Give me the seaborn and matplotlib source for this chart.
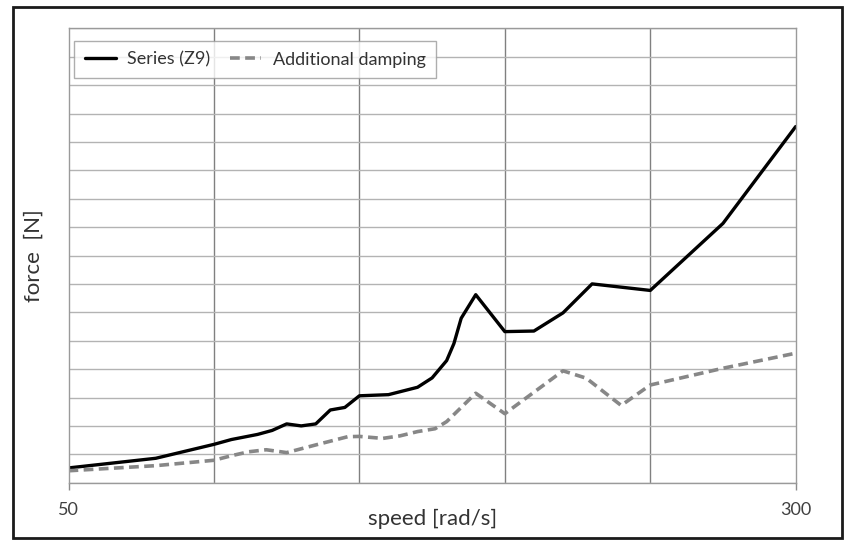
import matplotlib
matplotlib.use("Agg")
import matplotlib.pyplot as plt
import seaborn as sns
import pandas as pd
from matplotlib.patches import Rectangle
from matplotlib.ticker import FixedLocator

series_x = [50, 80, 100, 106, 115, 120, 125, 130, 135, 140, 145, 150, 160, 170, 175,
            180, 182.5, 185, 190, 200, 210, 220, 230, 250, 275, 300]
series_y = [0.52, 0.86, 1.35, 1.52, 1.70, 1.84, 2.07, 2.00, 2.07, 2.56, 2.65, 3.06, 3.10, 3.36, 3.69,
            4.30, 4.90, 5.79, 6.62, 5.32, 5.34, 5.98, 7.00, 6.77, 9.13, 12.54]

damp_x = [50, 80, 100, 106, 112, 118, 125, 135, 146, 150, 158, 164, 170, 176, 180,
          190, 200, 220, 228, 240, 250, 275, 300]
damp_y = [0.42, 0.60, 0.79, 0.95, 1.09, 1.16, 1.06, 1.33, 1.62, 1.63, 1.56, 1.65, 1.80, 1.90, 2.15,
          3.15, 2.43, 3.94, 3.68, 2.72, 3.44, 4.03, 4.56]

series_names = ["Series (Z9)", "Additional damping"]
x_label = "speed [rad/s]"
y_label = "force  [N]"
x_major = [50, 300]
x_grid = [100, 150, 200, 250]

sns.set_theme(style="white")
plt.rcParams["font.family"] = ["Lato", "DejaVu Sans"]

fig = plt.figure(figsize=(8.49, 5.40), dpi=100)
ax_h = 482.7 - 28.3
ax = fig.add_axes([68.5 / 849, 1 - 482.7 / 540, (795.7 - 68.5) / 849, ax_h / 540])

df1 = pd.DataFrame({"x": series_x, "y": series_y})
df2 = pd.DataFrame({"x": damp_x, "y": damp_y})

sns.lineplot(data=df1, x="x", y="y", ax=ax, color="black", linewidth=2.4,
             label=series_names[0], sort=False)
sns.lineplot(data=df2, x="x", y="y", ax=ax, color="#878787", linewidth=2.6,
             label=series_names[1], sort=False)
ax.lines[1].set_dashes([2.7, 1.5])

ax.set_xlim(50, 300)
ax.set_ylim(0, 16)
ax.set_xticks(x_major)
ax.set_xticklabels([str(v) for v in x_major], fontsize=13, color="#404040")
ax.xaxis.set_minor_locator(FixedLocator(x_grid))
ax.set_yticks(range(0, 17))
ax.set_yticklabels([])
ax.tick_params(axis="x", which="major", length=5, width=1, color="#8c8c8c", pad=9, bottom=True)
ax.tick_params(axis="x", which="minor", length=0)
ax.tick_params(axis="y", length=0)

ax.grid(axis="y", which="major", color="#b3b3b3", linewidth=1.0)
ax.grid(axis="x", which="minor", color="#808080", linewidth=1.0)
ax.set_axisbelow(True)

for s in ["left", "right", "top", "bottom"]:
    ax.spines[s].set_color("#9a9a9a")
    ax.spines[s].set_linewidth(1.0)

ax.set_xlabel(x_label, fontsize=16, color="#333333", va="center")
ax.xaxis.set_label_coords(0.5, -36 / ax_h)
ax.set_ylabel(y_label, fontsize=16, color="#333333", va="center")
ax.yaxis.set_label_coords(-35 / 727.2, 0.5)

leg = ax.legend(loc="upper left", bbox_to_anchor=(0.0076, 0.9727), borderaxespad=0,
                ncol=2, fontsize=13, frameon=True, fancybox=False, handlelength=1.7,
                columnspacing=1.1, borderpad=0.6, handletextpad=0.65)
leg.get_frame().set_edgecolor("#9a9a9a")
leg.get_frame().set_linewidth(1.0)
for t in leg.get_texts():
    t.set_color("#333333")

fig.patches.append(Rectangle((13 / 849, 1 - 538 / 540), (842 - 13) / 849, (538 - 7) / 540,
                             transform=fig.transFigure, fill=False, edgecolor="#1a1a1a",
                             linewidth=2.0, zorder=10))

fig.savefig("out.png", dpi=100)
